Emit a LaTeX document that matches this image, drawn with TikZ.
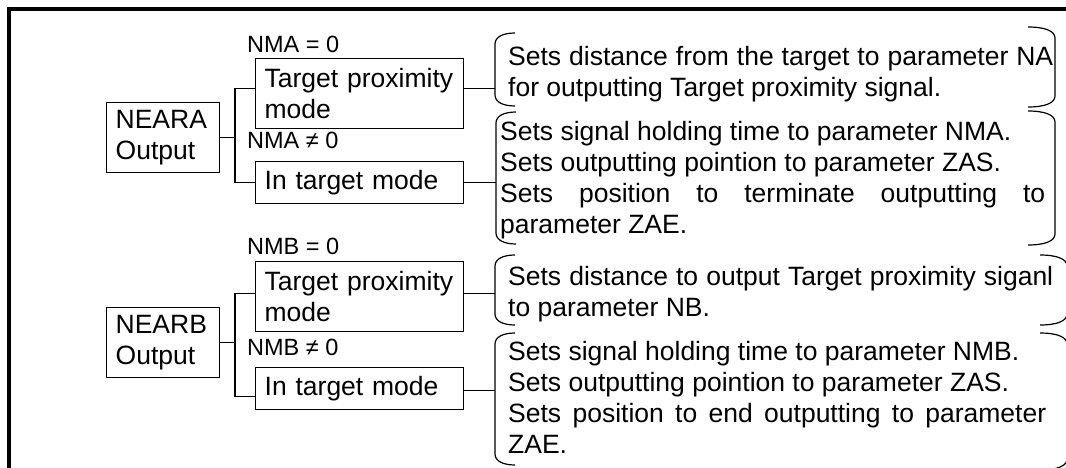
\documentclass[tikz,border=0pt]{standalone}
\usepackage{fontspec}
\setmainfont{Liberation Sans}
\newcommand\fsbig{\fontsize{26.5}{31}\selectfont}
\newcommand\fslab{\fontsize{23.5}{27}\selectfont}
\newcommand\mylbr[3]{\draw[brk] ({#1+20},#2) .. controls ({#1+8},#2) and (#1,{#2+4}) .. (#1,{#2+11}) -- (#1,{#3-11}) .. controls (#1,{#3-4}) and ({#1+8},#3) .. ({#1+20},#3);}
\newcommand\myrbr[3]{\draw[brk] ({#1-27},#2) .. controls ({#1-10},#2) and (#1,{#2+4}) .. (#1,{#2+11}) -- (#1,{#3-11}) .. controls (#1,{#3-4}) and ({#1-10},#3) .. ({#1-27},#3);}
\begin{document}
\begin{tikzpicture}[x=1pt,y=-1pt,
  box/.style={draw, line width=1.3pt, inner xsep=9pt, inner ysep=0pt, align=left, font={\fsbig\hyphenpenalty=10000 }, anchor=north west},
  lab/.style={inner sep=0pt, anchor=base west, font=\fslab},
  desc/.style={inner sep=0pt, anchor=base west, font=\fsbig},
  conn/.style={line width=1.3pt},
  brk/.style={line width=1.2pt},
  frame/.style={line width=3.5pt}]
\useasboundingbox (0,0) rectangle (1066,468);
\draw[frame] (9,472) -- (9,9) -- (1070,9);

% boxes
\node[box, text width=95pt, minimum height=70pt] (na) at (106,102) {NEARA\\Output};
\node[box, text width=190pt, minimum height=70pt] (a1) at (255,58) {Target proximity\\mode};
\node[box, text width=190pt, minimum height=42pt] (a2) at (255,161) {In target mode};
\node[box, text width=95pt, minimum height=70pt] (nb) at (106,307) {NEARB\\Output};
\node[box, text width=190pt, minimum height=70pt] (b1) at (255,261) {Target proximity\\mode};
\node[box, text width=190pt, minimum height=42pt] (b2) at (255,367) {In target mode};

% labels
\node[lab] (la0) at (247,53) {NMA = 0};
\node[lab] (la1) at (247,149) {NMA ≠ 0};
\node[lab] (lb0) at (247,254) {NMB = 0};
\node[lab] (lb1) at (247,355) {NMB ≠ 0};

% descriptions
\node[desc] (d1) at (508,66) {\parbox[t]{600pt}{\makebox[545pt][s]{Sets distance from the target to parameter NA}\\for outputting Target proximity signal.}};
\node[desc] (d2) at (500,141) {\parbox[t]{600pt}{Sets signal holding time to parameter NMA.\\Sets outputting pointion to parameter ZAS.\\\makebox[545pt][s]{Sets position to terminate outputting to}\\parameter ZAE.}};
\node[desc] (d3) at (508,285) {\parbox[t]{600pt}{\makebox[545pt][s]{Sets distance to output Target proximity siganl}\\to parameter NB.}};
\node[desc] (d4) at (508,360) {\parbox[t]{600pt}{Sets signal holding time to parameter NMB.\\Sets outputting pointion to parameter ZAS.\\\makebox[538pt][s]{Sets position to end outputting to parameter}\\ZAE.}};

% brackets
\mylbr{495}{33}{106}
\myrbr{1055}{27}{107}
\mylbr{496}{112}{244}
\myrbr{1055}{111}{245}
\mylbr{495}{255}{325}
\myrbr{1067}{255}{325}
\mylbr{495}{333}{465}
\myrbr{1067}{333}{470}

% junction and bracket coordinates
\coordinate (ja) at (235,0);
\coordinate (bxa) at (495,0);
\coordinate (bxb) at (496,0);
\coordinate (a1l) at ([yshift=5pt]a1.west);
\coordinate (a1r) at ([yshift=5pt]a1.east);
\coordinate (b1l) at ([yshift=3pt]b1.west);
\coordinate (b1r) at ([yshift=3pt]b1.east);
\coordinate (b2l) at ([yshift=-8pt]b2.west);
\coordinate (b2r) at ([yshift=-2pt]b2.east);

% connectors
\draw[conn] (na.east) -- (na.east -| ja);
\draw[conn] (a1l) -| (a2.west -| ja) -- (a2.west);
\draw[conn] (a1r) -- (a1r -| bxa);
\draw[conn] (a2.east) -- (a2.east -| bxb);
\draw[conn] (nb.east) -- (nb.east -| ja);
\draw[conn] (b1l) -| (b2l -| ja) -- (b2l);
\draw[conn] (b1r) -- (b1r -| bxa);
\draw[conn] (b2r) -- (b2r -| bxa);
\end{tikzpicture}
\end{document}
